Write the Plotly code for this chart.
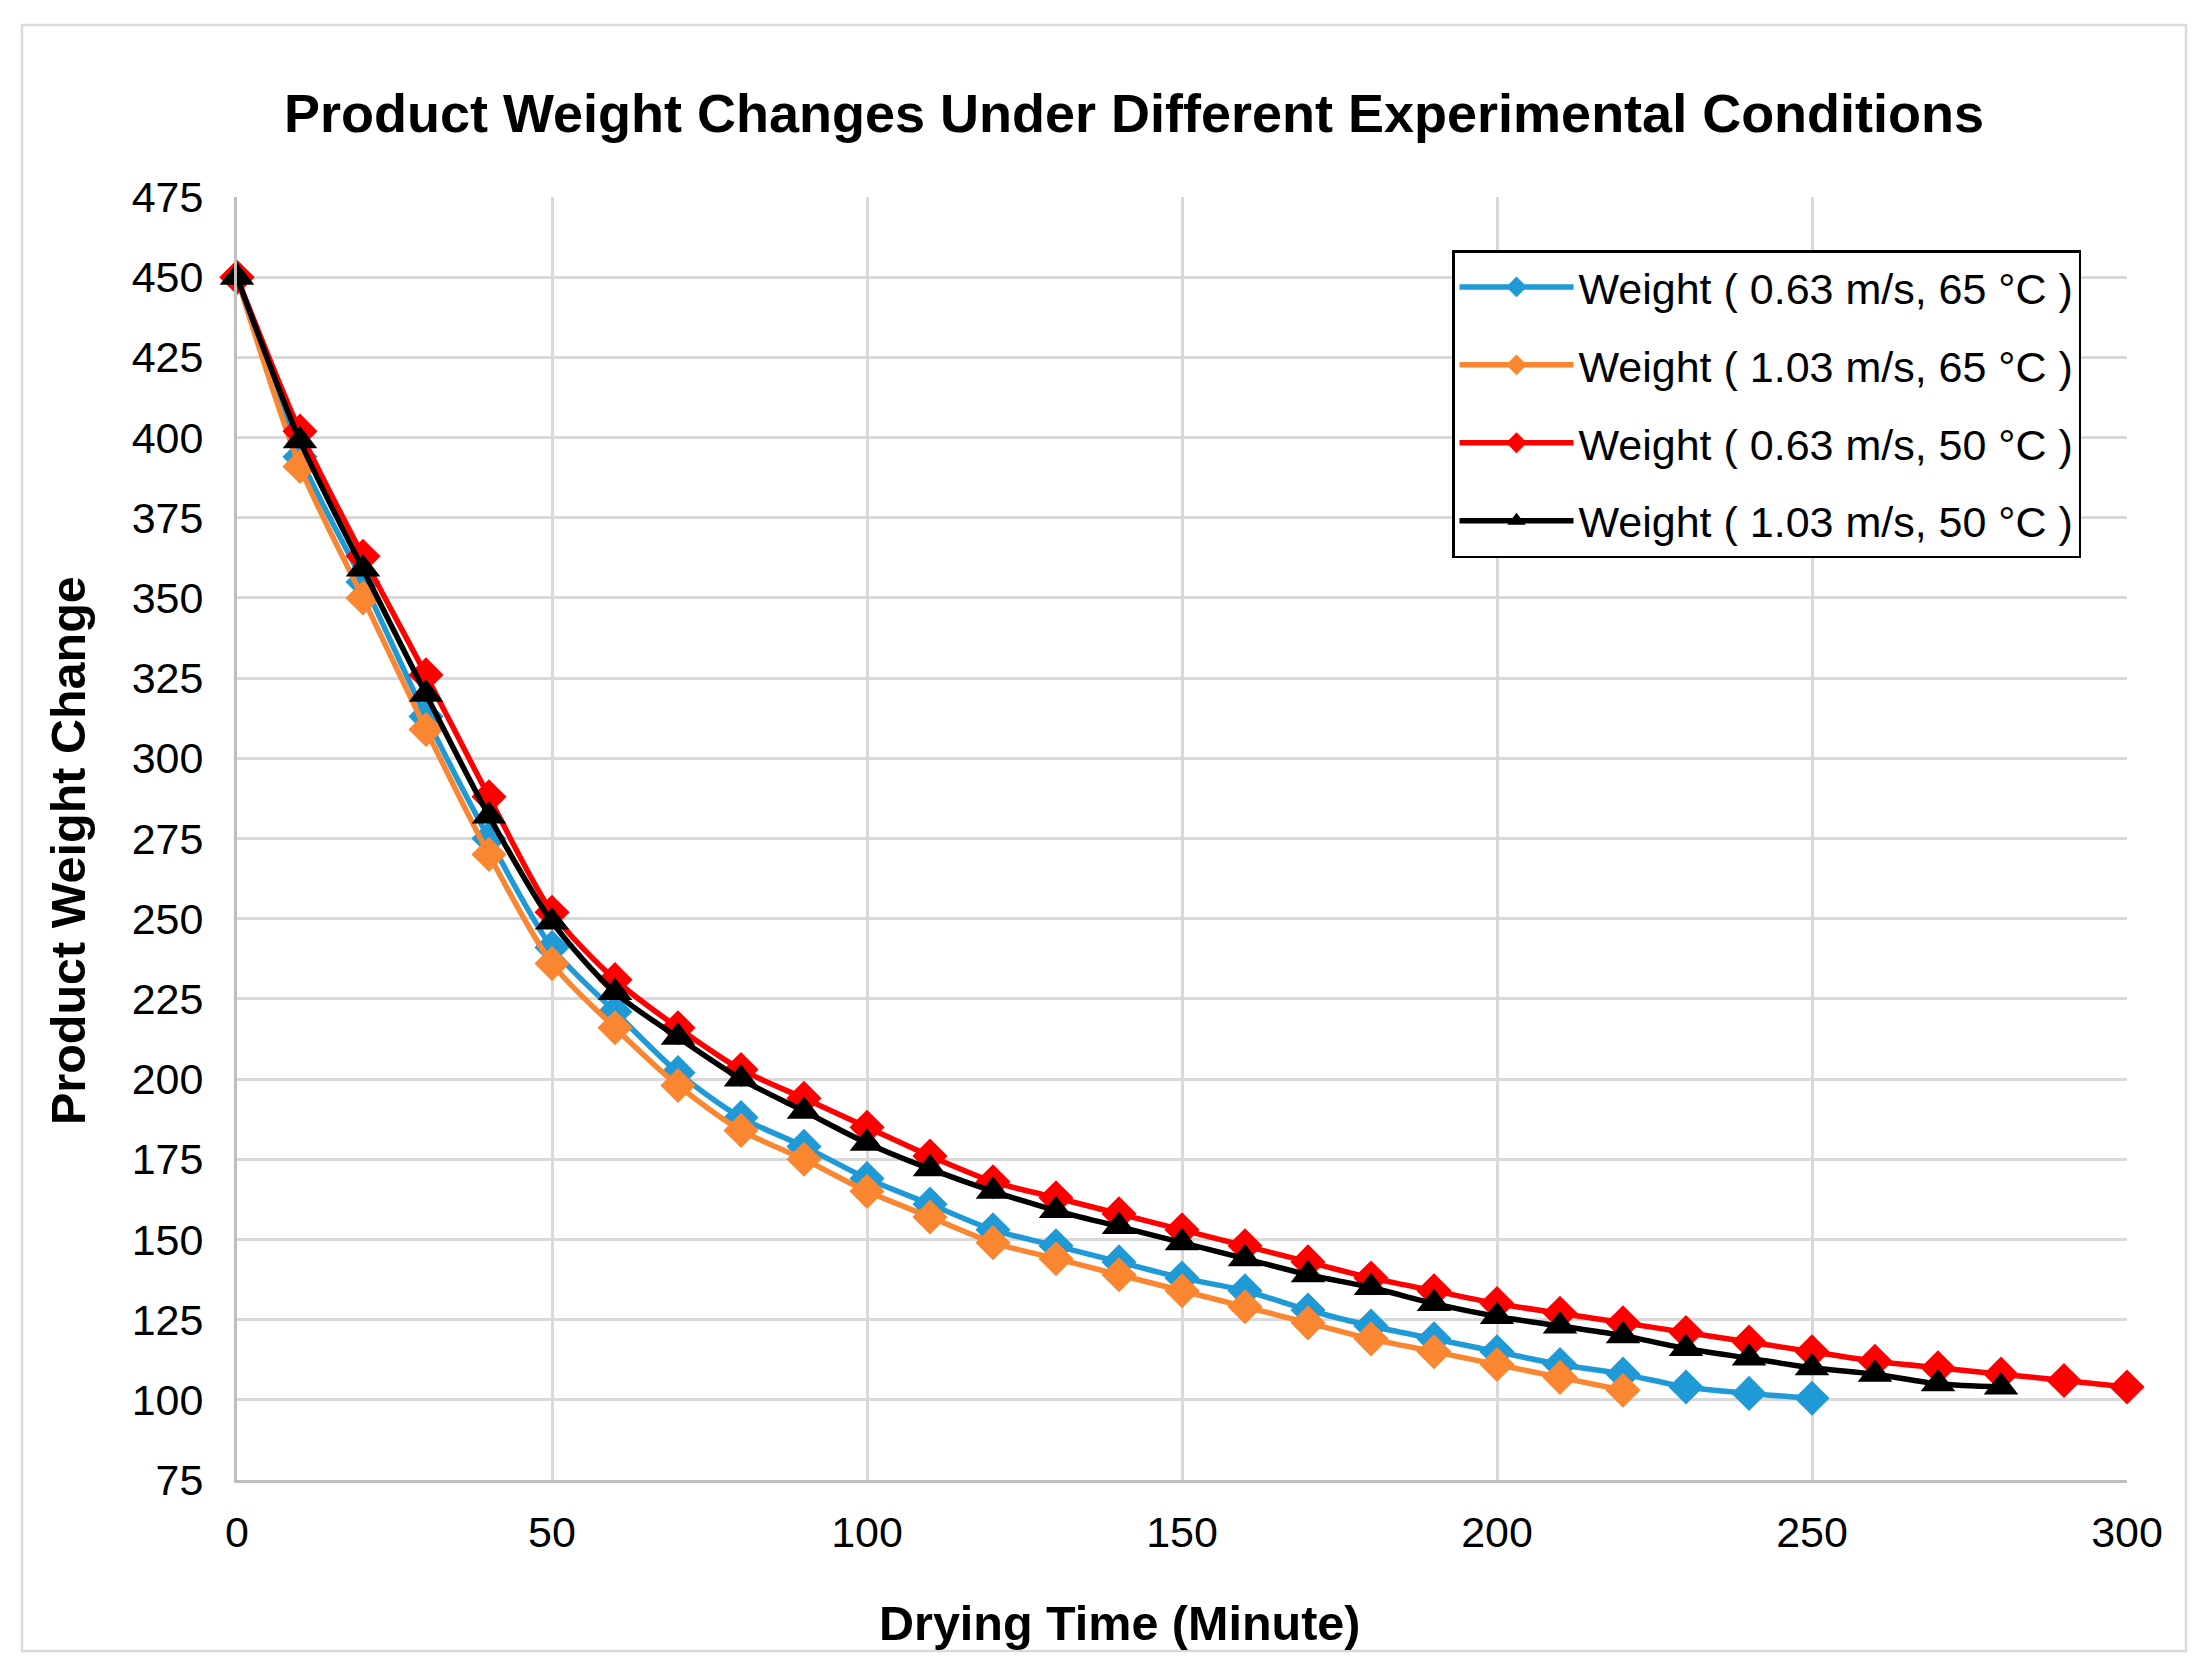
import plotly.graph_objects as go

# ---- data ----
time_blue = [0, 10, 20, 30, 40, 50, 60, 70, 80, 90, 100, 110, 120, 130, 140, 150, 160, 170, 180, 190, 200, 210, 220, 230, 240, 250]
w_blue = [450, 394, 355, 313, 275, 241, 221, 202, 188, 179, 169, 161, 153, 148, 143, 138, 134, 128, 123, 119, 115, 111, 108, 104, 102, 100.5]

time_orange = [0, 10, 20, 30, 40, 50, 60, 70, 80, 90, 100, 110, 120, 130, 140, 150, 160, 170, 180, 190, 200, 210, 220]
w_orange = [450, 391, 350, 309, 270, 236, 216, 198, 184, 175, 165, 157, 149, 144, 139, 134, 129, 124, 119, 115, 111, 107, 103]

time_red = [0, 10, 20, 30, 40, 50, 60, 70, 80, 90, 100, 110, 120, 130, 140, 150, 160, 170, 180, 190, 200, 210, 220, 230, 240, 250, 260, 270, 280, 290, 300]
w_red = [450, 402, 363, 326, 288, 252, 231, 216, 203, 194, 185, 176, 168, 163, 158, 153, 148, 143, 138, 134, 130, 127, 124, 121, 118, 115, 112, 110, 108, 106, 104]

time_black = [0, 10, 20, 30, 40, 50, 60, 70, 80, 90, 100, 110, 120, 130, 140, 150, 160, 170, 180, 190, 200, 210, 220, 230, 240, 250, 260, 270, 280]
w_black = [450, 399, 359, 320, 282, 249, 227, 213, 200, 190, 180, 172, 165, 159, 154, 149, 144, 139, 135, 130, 126, 123, 120, 116, 113, 110, 108, 105, 104]

names = [
    "Weight ( 0.63 m/s, 65 °C )",
    "Weight ( 1.03 m/s, 65 °C )",
    "Weight ( 0.63 m/s, 50 °C )",
    "Weight ( 1.03 m/s, 50 °C )",
]
x_ticks = [0, 50, 100, 150, 200, 250, 300]
y_ticks = [75, 100, 125, 150, 175, 200, 225, 250, 275, 300, 325, 350, 375, 400, 425, 450, 475]

FONT = "Liberation Sans, Arial, sans-serif"

series = [
    (time_blue, w_blue, "#1F9AD6", "diamond", 27),
    (time_orange, w_orange, "#FA8632", "diamond", 27),
    (time_red, w_red, "#FF0000", "diamond", 27),
    (time_black, w_black, "#000000", "triangle-up", 30),
]

fig = go.Figure()
for i, (xs, ys, col, sym, sz) in enumerate(series):
    fig.add_trace(go.Scatter(
        x=xs, y=ys, name=names[i], mode="lines+markers",
        line=dict(color=col, width=5.5, shape="spline", smoothing=0.8),
        marker=dict(symbol=sym, size=sz, color=col, line=dict(width=0)),
        cliponaxis=False, legendgroup=f"g{i}",
    ))

# page has an 8px body margin; work in reference-image pixels and shift
OFF = 8
W, H = 2190, 1656
PL, PR, PT, PB = 237, 2127, 197, 1480          # plot area in reference pixels
L, T = PL - OFF, PT - OFF
R, B = W - (PR - OFF), H - (PB - OFF)
pw, ph = PR - PL, PB - PT

def px(xp):
    return (xp - PL) / pw

def py(yp):
    return (PB - yp) / ph

fig.update_layout(
    width=W, height=H,
    margin=dict(l=L, r=R, t=T, b=B),
    paper_bgcolor="white", plot_bgcolor="white",
    font=dict(family=FONT, color="black"),
    title=dict(
        text="<b>Product Weight Changes Under Different Experimental Conditions</b>",
        font=dict(size=54, family=FONT, color="black"),
        x=(1134 - OFF) / W, xanchor="center", y=1 - (113 - OFF) / H, yanchor="middle",
        xref="container", yref="container",
    ),
    showlegend=True,
    legend=dict(
        x=px(1452), y=py(250), xanchor="left", yanchor="top",
        bgcolor="white", bordercolor="black", borderwidth=2.5,
        font=dict(size=43, family=FONT, color="black"),
        tracegroupgap=19, itemwidth=114,
    ),
    xaxis=dict(
        range=[0, 300], tickvals=x_ticks, ticktext=[str(v) for v in x_ticks],
        showgrid=True, gridcolor="#D9D9D9", gridwidth=2.5,
        showline=True, linecolor="#BFBFBF", linewidth=3,
        zeroline=False, ticks="", ticklabelstandoff=12,
        tickfont=dict(size=43, family=FONT, color="black"),
    ),
    yaxis=dict(
        range=[75, 475], tickvals=y_ticks, ticktext=[str(v) for v in y_ticks],
        showgrid=True, gridcolor="#D9D9D9", gridwidth=2.5,
        showline=True, linecolor="#BFBFBF", linewidth=3,
        zeroline=False, ticks="", ticklabelstandoff=22,
        tickfont=dict(size=43, family=FONT, color="black"),
    ),
    annotations=[
        dict(text="<b>Drying Time (Minute)</b>", xref="paper", yref="paper",
             x=px(1119), y=py(1623), xanchor="center", yanchor="middle",
             showarrow=False, font=dict(size=48.5, family=FONT, color="black")),
        dict(text="<b>Product Weight Change</b>", xref="paper", yref="paper",
             x=px(68), y=py(851), xanchor="center", yanchor="middle", textangle=-90,
             showarrow=False, font=dict(size=48.5, family=FONT, color="black")),
    ],
    shapes=[
        dict(type="rect", xref="paper", yref="paper",
             x0=px(22), x1=px(2186), y0=py(1651), y1=py(25),
             line=dict(color="#D9D9D9", width=2.5), fillcolor="rgba(0,0,0,0)", layer="below"),
    ],
)

fig.write_html("out.html")
